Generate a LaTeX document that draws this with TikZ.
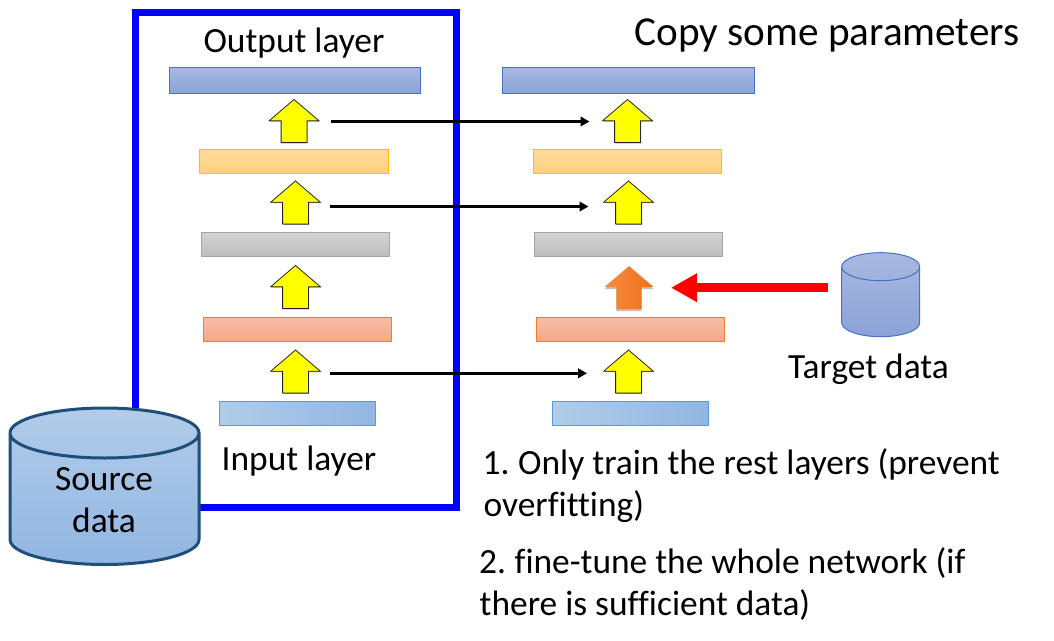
\documentclass[tikz,border=0pt]{standalone}
\usepackage{fontspec}
\setmainfont[Ligatures=NoCommon]{Carlito}
\usetikzlibrary{shapes.arrows,arrows.meta,shadows}
\definecolor{bluetop}{HTML}{A9B8E0}\definecolor{bluebot}{HTML}{8BA3D8}\definecolor{blueln}{HTML}{4472C4}
\definecolor{goldtop}{HTML}{FFDC9A}\definecolor{goldbot}{HTML}{FFD07C}\definecolor{goldln}{HTML}{FFC000}
\definecolor{graytop}{HTML}{D3D3D3}\definecolor{graybot}{HTML}{BDBDBD}\definecolor{grayln}{HTML}{A5A5A5}
\definecolor{salmtop}{HTML}{F7BEA6}\definecolor{salmbot}{HTML}{F4A886}\definecolor{salmln}{HTML}{ED7D31}
\definecolor{inleft}{HTML}{B2CCE9}\definecolor{inright}{HTML}{91B6E2}\definecolor{inln}{HTML}{5B9BD5}
\definecolor{srcln}{HTML}{1F4E79}\definecolor{orleft}{HTML}{F58D42}\definecolor{orright}{HTML}{F06F18}
\definecolor{upyellow}{RGB}{255,255,0}\definecolor{framecol}{RGB}{0,0,255}\definecolor{redcol}{RGB}{255,0,0}
\newcommand{\dbdraw}[7]{% cx, top centre y, rx, ry, height, fill style, line style
  \path[#6] (#1-#3,#2) -- (#1-#3,#2+#5) arc[start angle=180,end angle=360,x radius=#3 pt,y radius=#4 pt]
    -- (#1+#3,#2) arc[start angle=0,end angle=180,x radius=#3 pt,y radius=#4 pt] -- cycle;
  \draw[#7] (#1-#3,#2) -- (#1-#3,#2+#5) arc[start angle=180,end angle=360,x radius=#3 pt,y radius=#4 pt]
    -- (#1+#3,#2) arc[start angle=0,end angle=180,x radius=#3 pt,y radius=#4 pt] -- cycle
    (#1-#3,#2) arc[start angle=180,end angle=360,x radius=#3 pt,y radius=#4 pt];
}
\tikzset{
  x=1pt,y=-1pt,
  lay/.style={rectangle,inner sep=0pt,line width=1pt,minimum height=24.5pt},
  laytop/.style={lay,draw=blueln,top color=bluetop,bottom color=bluebot,minimum height=26.5pt},
  laygold/.style={lay,draw=goldln,top color=goldtop,bottom color=goldbot},
  laygray/.style={lay,draw=grayln,top color=graytop,bottom color=graybot},
  laysalm/.style={lay,draw=salmln,top color=salmtop,bottom color=salmbot},
  layin/.style={lay,draw=inln,left color=inleft,right color=inright},
  uparrow/.style={single arrow,rotate=90,inner xsep=0pt,inner ysep=12.5pt,outer sep=0pt,minimum height=43pt,
    single arrow head extend=12pt,single arrow head indent=0pt,single arrow tip angle=99},
  yellowup/.style={uparrow,draw=black!85,line width=.8pt,fill=upyellow,
    general shadow={fill=black!45,shadow xshift=.8pt,shadow yshift=-.8pt}},
  orangeup/.style={uparrow,left color=orleft,right color=orright,shading angle=90,
    general shadow={fill=black!25,shadow xshift=0pt,shadow yshift=-2pt}},
  copyline/.style={draw=black,line width=3pt,-{Triangle[length=9pt,width=9.5pt]}},
  lbl/.style={inner sep=0pt,font=\fontsize{35.4}{42}\selectfont},
}
\begin{document}
\begin{tikzpicture}
\useasboundingbox (0,0) rectangle (1054,640);
% transfer frame
\draw[draw=framecol,line width=6.8pt] (135.4,12.5) rectangle (456.5,507.4);
\node[lbl,anchor=base] (outl) at (294,52) {Output layer};
\node[lbl,anchor=base] (inl) at (299,470) {Input layer};
% left column
\node[laytop,minimum width=251.5pt] (l5) at (295,80.4) {};
\node[laygold,minimum width=189.5pt] (l4) at (294,161.3) {};
\node[laygray,minimum width=188.5pt] (l3) at (295.5,244.5) {};
\node[laysalm,minimum width=188.5pt] (l2) at (297.5,329.3) {};
\node[layin,minimum width=156.5pt] (l1) at (297.5,413.3) {};
\node[yellowup] (al4) at (294,126.5) {};
\node[yellowup] (al3) at (295.5,208) {};
\node[yellowup] (al2) at (295.5,292.5) {};
\node[yellowup] (al1) at (295.5,377) {};
% right column
\node[laytop,minimum width=252.5pt] (r5) at (628.5,80.4) {};
\node[laygold,minimum width=188.5pt] (r4) at (627.5,161.3) {};
\node[laygray,minimum width=188.5pt] (r3) at (628.5,244.5) {};
\node[laysalm,minimum width=188.5pt] (r2) at (630.3,329.5) {};
\node[layin,minimum width=156.5pt] (r1) at (630.5,413.3) {};
\node[yellowup] (ar4) at (627.5,126.5) {};
\node[yellowup] (ar3) at (628.5,208) {};
\node[orangeup] (ar2) at (629,293) {};
\node[yellowup] (ar1) at (628.5,377) {};
% copy arrows
\path[copyline] ([xshift=37pt,yshift=5pt]al4.center) -- ([xshift=-38pt,yshift=5pt]ar4.center);
\path[copyline] ([xshift=34.5pt,yshift=1.5pt]al3.center) -- ([xshift=-40pt,yshift=1.5pt]ar3.center);
\path[copyline] ([xshift=34.5pt,yshift=3.7pt]al1.center) -- ([xshift=-41.5pt,yshift=3.7pt]ar1.center);
% target data
\dbdraw{880.7}{266.7}{39}{14}{56}{top color=bluetop,bottom color=bluebot}{draw=blueln,line width=1pt}
\node[lbl,anchor=base] (tgtl) at (868.5,378) {Target data};
\coordinate (redstart) at (828,287.7);
\draw[redcol,line width=9pt,-{Triangle[length=26pt,width=27pt]}] (redstart) -- ([xshift=42pt,yshift=5.3pt]ar2.center);
% source data
\dbdraw{104.5}{433}{94.5}{25}{106.5}{top color=inleft,bottom color=inright}{draw=srcln,line width=3pt}
\node[lbl,anchor=base] (srcl) at (104,490) {Source};
\node[lbl,anchor=base] (srcm) at (104,532) {data};
% captions
\node[inner sep=0pt,anchor=base,font=\fontsize{41.2}{42}\selectfont] (title) at (827,45) {Copy some parameters};
\node[lbl,anchor=base west] (t1a) at (482.5,474) {1.\hspace{-2pt} Only train the rest layers (prevent};
\node[lbl,anchor=base west] (t1b) at (483.5,516) {overfitting)};
\node[lbl,anchor=base west] (t2a) at (479,573) {2.\hspace{-2pt} fine-tune the whole network (if};
\node[lbl,anchor=base west] (t2b) at (479.5,615) {there is sufficient data)};
\end{tikzpicture}
\end{document}
